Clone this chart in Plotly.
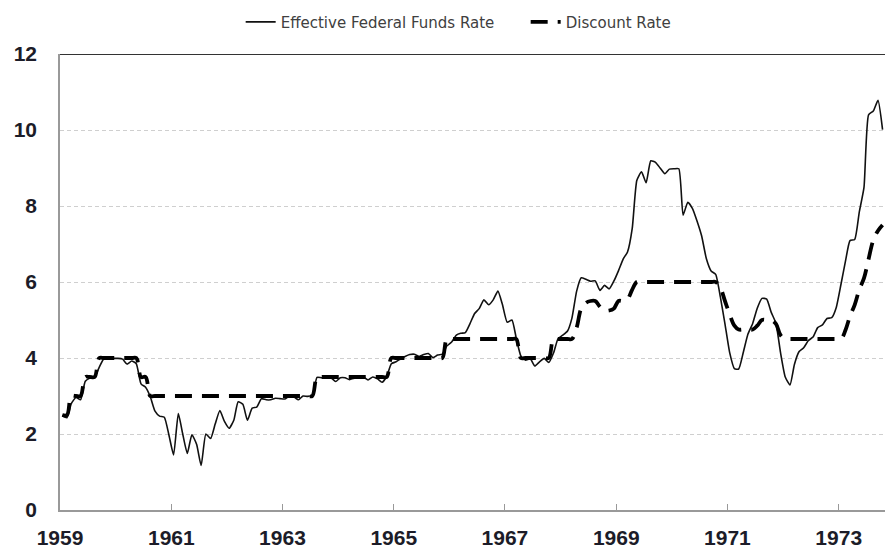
import plotly.graph_objects as go

# Monthly data, Jan 1959 - Oct 1973
years = list(range(1959, 1974))
n_months = 178

fed_funds = [
    2.48, 2.43, 2.80, 2.96, 2.90, 3.39, 3.47, 3.50, 3.76, 3.98, 4.00, 3.99,   # 1959
    3.99, 3.97, 3.84, 3.92, 3.85, 3.32, 3.23, 2.98, 2.60, 2.47, 2.44, 1.98,   # 1960
    1.45, 2.54, 2.02, 1.49, 1.98, 1.73, 1.17, 2.00, 1.88, 2.26, 2.62, 2.33,   # 1961
    2.15, 2.37, 2.85, 2.78, 2.36, 2.68, 2.71, 2.93, 2.90, 2.90, 2.94, 2.93,   # 1962
    2.92, 3.00, 2.98, 2.90, 3.00, 2.99, 3.02, 3.49, 3.48, 3.50, 3.48, 3.38,   # 1963
    3.48, 3.48, 3.43, 3.47, 3.50, 3.50, 3.42, 3.50, 3.45, 3.36, 3.52, 3.85,   # 1964
    3.90, 3.98, 4.04, 4.09, 4.10, 4.04, 4.09, 4.12, 4.01, 4.08, 4.10, 4.32,   # 1965
    4.42, 4.60, 4.65, 4.67, 4.90, 5.17, 5.30, 5.53, 5.40, 5.53, 5.76, 5.40,   # 1966
    4.94, 5.00, 4.53, 4.05, 3.94, 3.98, 3.79, 3.90, 3.99, 3.88, 4.13, 4.51,   # 1967
    4.60, 4.71, 5.05, 5.76, 6.11, 6.07, 6.02, 6.03, 5.78, 5.91, 5.82, 6.02,   # 1968
    6.30, 6.61, 6.79, 7.41, 8.67, 8.90, 8.61, 9.19, 9.15, 9.00, 8.85, 8.97,   # 1969
    8.98, 8.98, 7.76, 8.10, 7.94, 7.60, 7.21, 6.61, 6.29, 6.20, 5.60, 4.90,   # 1970
    4.14, 3.72, 3.71, 4.16, 4.63, 4.91, 5.31, 5.57, 5.55, 5.20, 4.91, 4.14,   # 1971
    3.50, 3.29, 3.83, 4.17, 4.27, 4.46, 4.55, 4.80, 4.87, 5.04, 5.06, 5.33,   # 1972
    5.94, 6.58, 7.09, 7.12, 7.84, 8.49, 10.40, 10.50, 10.78, 10.01,           # 1973
]

discount_rate = [
    2.5, 2.5, 3.0, 3.0, 3.0, 3.5, 3.5, 3.5, 4.0, 4.0, 4.0, 4.0,               # 1959
    4.0, 4.0, 4.0, 4.0, 4.0, 3.5, 3.5, 3.0, 3.0, 3.0, 3.0, 3.0,               # 1960
    3.0, 3.0, 3.0, 3.0, 3.0, 3.0, 3.0, 3.0, 3.0, 3.0, 3.0, 3.0,               # 1961
    3.0, 3.0, 3.0, 3.0, 3.0, 3.0, 3.0, 3.0, 3.0, 3.0, 3.0, 3.0,               # 1962
    3.0, 3.0, 3.0, 3.0, 3.0, 3.0, 3.0, 3.5, 3.5, 3.5, 3.5, 3.5,               # 1963
    3.5, 3.5, 3.5, 3.5, 3.5, 3.5, 3.5, 3.5, 3.5, 3.5, 3.5, 4.0,               # 1964
    4.0, 4.0, 4.0, 4.0, 4.0, 4.0, 4.0, 4.0, 4.0, 4.0, 4.0, 4.5,               # 1965
    4.5, 4.5, 4.5, 4.5, 4.5, 4.5, 4.5, 4.5, 4.5, 4.5, 4.5, 4.5,               # 1966
    4.5, 4.5, 4.5, 4.0, 4.0, 4.0, 4.0, 4.0, 4.0, 4.0, 4.5, 4.5,               # 1967
    4.5, 4.5, 4.5, 4.8, 5.3, 5.45, 5.5, 5.5, 5.35, 5.25, 5.25, 5.3,           # 1968
    5.5, 5.5, 5.55, 5.8, 6.0, 6.0, 6.0, 6.0, 6.0, 6.0, 6.0, 6.0,              # 1969
    6.0, 6.0, 6.0, 6.0, 6.0, 6.0, 6.0, 6.0, 6.0, 6.0, 5.85, 5.5,              # 1970
    5.15, 4.85, 4.75, 4.75, 4.75, 4.75, 4.85, 5.0, 5.0, 5.0, 4.9, 4.6,        # 1971
    4.5, 4.5, 4.5, 4.5, 4.5, 4.5, 4.5, 4.5, 4.5, 4.5, 4.5, 4.5,               # 1972
    4.5, 4.75, 5.1, 5.4, 5.8, 6.1, 6.6, 7.1, 7.35, 7.5,                       # 1973
]

dates = [f"{y}-{m:02d}-16" for y in years for m in range(1, 13)][:n_months]

tick_years = ["1959", "1961", "1963", "1965", "1967", "1969", "1971", "1973"]
tick_vals = [f"{y}-01-01" for y in tick_years]
y_ticks = [0, 2, 4, 6, 8, 10, 12]

fig = go.Figure()
fig.add_trace(go.Scatter(
    x=dates, y=fed_funds, mode="lines", name="Effective Federal Funds Rate",
    line=dict(color="#111111", width=1.6, shape="spline", smoothing=0.5),
))
fig.add_trace(go.Scatter(
    x=dates, y=discount_rate, mode="lines", name="Discount Rate",
    line=dict(color="#000000", width=3.8, dash="17px,10px", shape="spline", smoothing=1.0),
))

fig.add_shape(type="line", xref="paper", yref="y", x0=0, x1=1, y0=12, y1=12,
              line=dict(color="#333333", width=2))

tick_font = dict(family="Liberation Sans", size=21, color="#1c1c28", weight="bold")

fig.update_layout(
    width=885, height=552,
    margin=dict(l=60, r=0, t=54, b=42),
    paper_bgcolor="white", plot_bgcolor="white",
    showlegend=True,
    legend=dict(orientation="h", x=0.219, xanchor="left", y=1.07, yanchor="middle",
                font=dict(family="DejaVu Sans", size=15, color="#404040"),
                bgcolor="rgba(0,0,0,0)", entrywidth=240, entrywidthmode="pixels"),
    xaxis=dict(
        type="date", range=["1959-01-01", "1973-11-01"],
        tickvals=tick_vals, ticktext=tick_years,
        ticks="inside", ticklen=6, tickcolor="#999999", tickwidth=1,
        showgrid=False, showline=True, linecolor="#999999", linewidth=1.5,
        tickfont=tick_font, ticklabelstandoff=8, zeroline=False,
    ),
    yaxis=dict(
        range=[0, 12], tickvals=y_ticks,
        showgrid=True, gridcolor="#cfcfcf", gridwidth=1, griddash="4px,3px",
        showline=True, linecolor="#999999", linewidth=1.5,
        ticks="", tickfont=tick_font, ticklabelstandoff=17, zeroline=False,
    ),
)

fig.write_html(
    "out.html",
    config={"displayModeBar": False},
    post_script="document.body.style.margin='0';document.body.style.overflow='hidden';",
)
